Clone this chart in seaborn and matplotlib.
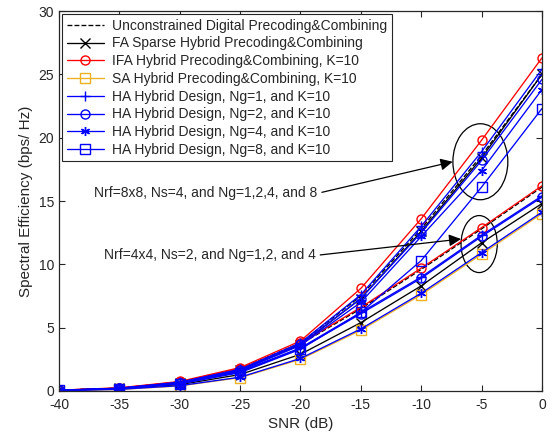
import matplotlib
matplotlib.use("Agg")
from matplotlib import pyplot as plt
from matplotlib.patches import Ellipse
import numpy as np
import seaborn as sns

snr = [-40, -35, -30, -25, -20, -15, -10, -5, 0]

# Nrf=8x8, Ns=4
dig_8 = [0.06, 0.22, 0.68, 1.75, 3.8, 7.5, 12.8, 18.6, 25.0]
fa_8 = [0.05, 0.21, 0.64, 1.65, 3.65, 7.3, 12.6, 18.4, 25.0]
ifa_8 = [0.07, 0.25, 0.75, 1.85, 3.95, 8.1, 13.6, 19.8, 26.3]
ha1_8 = [0.06, 0.22, 0.70, 1.72, 3.8, 7.6, 13.0, 18.9, 25.4]
ha2_8 = [0.06, 0.21, 0.66, 1.66, 3.7, 7.3, 12.5, 18.2, 24.6]
ha4_8 = [0.05, 0.20, 0.63, 1.60, 3.6, 7.0, 12.2, 17.4, 23.8]
ha8_8 = [0.04, 0.18, 0.56, 1.45, 3.3, 6.2, 10.3, 16.1, 22.3]

# Nrf=4x4, Ns=2
dig_4 = [0.06, 0.22, 0.70, 1.70, 3.7, 6.5, 9.6, 12.8, 16.1]
fa_4 = [0.04, 0.16, 0.50, 1.30, 2.9, 5.4, 8.3, 11.7, 14.8]
ifa_4 = [0.06, 0.23, 0.72, 1.75, 3.75, 6.6, 9.7, 12.9, 16.2]
sa_4 = [0.03, 0.12, 0.40, 1.05, 2.5, 4.8, 7.6, 10.8, 14.0]
ha1_4 = [0.05, 0.20, 0.62, 1.55, 3.4, 6.2, 9.0, 12.3, 15.4]
ha2_4 = [0.05, 0.19, 0.60, 1.50, 3.35, 6.1, 8.9, 12.2, 15.3]
ha4_4 = [0.03, 0.13, 0.42, 1.09, 2.57, 4.9, 7.72, 10.93, 14.12]

labels = [
    "Unconstrained Digital Precoding&Combining",
    "FA Sparse Hybrid Precoding&Combining",
    "IFA Hybrid Precoding&Combining, K=10",
    "SA Hybrid Precoding&Combining, K=10",
    "HA Hybrid Design, Ng=1, and K=10",
    "HA Hybrid Design, Ng=2, and K=10",
    "HA Hybrid Design, Ng=4, and K=10",
    "HA Hybrid Design, Ng=8, and K=10",
]

orange = "#EDB120"
colors = ["black", "black", "red", orange, "blue", "blue", "blue", "blue"]
lstyles = ["--", "-", "-", "-", "-", "-", "-", "-"]
markers = [None, "x", "o", "s", "+", "o", (6, 2, 0), "s"]

upper = [dig_8, fa_8, ifa_8, None, ha1_8, ha2_8, ha4_8, ha8_8]
lower = [dig_4, fa_4, ifa_4, sa_4, ha1_4, ha2_4, ha4_4, None]

sns.set_style("ticks")
plt.rcParams["font.family"] = ["Liberation Sans", "DejaVu Sans"]
plt.rcParams["axes.unicode_minus"] = False

fig = plt.figure(figsize=(5.53, 4.41), dpi=100)
ax = fig.add_axes([0.1067, 0.1134, 0.8733, 0.8616])

for i in range(8):
    c = colors[i]
    kw = dict(linewidth=0.95, markersize=6.5, markeredgewidth=1.0,
              markeredgecolor=c, markerfacecolor="none")
    first = True
    for grp in (lower, upper):
        vals = grp[i]
        if vals is None:
            continue
        sns.lineplot(x=snr, y=vals, ax=ax, color=c, linestyle=lstyles[i],
                     marker=markers[i], label=labels[i] if first else None,
                     legend=False, **kw)
        first = False

# ellipses and annotations
ax.add_patch(Ellipse((-5.1, 18.1), 4.55, 6.0, fill=False, edgecolor="black", linewidth=0.9))
ax.add_patch(Ellipse((-5.2, 11.6), 3.0, 4.5, fill=False, edgecolor="black", linewidth=0.9))

arrow = dict(arrowstyle="-|>", color="black", lw=0.9, mutation_scale=18,
             shrinkA=1, shrinkB=0, relpos=(1.0, 0.5))
ax.annotate("Nrf=8x8, Ns=4, and Ng=1,2,4, and 8", xy=(-7.4, 18.1), xytext=(-37.1, 15.6),
            fontsize=10, ha="left", va="center", arrowprops=arrow)
ax.annotate("Nrf=4x4, Ns=2, and Ng=1,2, and 4", xy=(-6.7, 12.0), xytext=(-36.3, 10.7),
            fontsize=10, ha="left", va="center", arrowprops=arrow)

ax.set_xlim(-40, 0)
ax.set_ylim(0, 30)
ax.set_xticks(snr)
ax.set_yticks(np.arange(0, 31, 5))
ax.tick_params(direction="in", top=True, right=True, labelsize=10, length=4, width=0.8)
ax.tick_params(axis="x", pad=5)
for s in ax.spines.values():
    s.set_linewidth(0.9)
    s.set_color("#262626")
ax.set_xlabel("SNR (dB)", fontsize=11)
ax.set_ylabel("Spectral Efficiency (bps/ Hz)", fontsize=11)

handles, labs = ax.get_legend_handles_labels()
leg = ax.legend(handles, labs, loc="upper left", fontsize=10, frameon=True, fancybox=False,
                edgecolor="#262626", framealpha=1, borderaxespad=0.25, handlelength=2.7,
                labelspacing=0.27, borderpad=0.3, handletextpad=0.6)
leg.get_frame().set_linewidth(0.8)

fig.savefig("out.png", dpi=100)
